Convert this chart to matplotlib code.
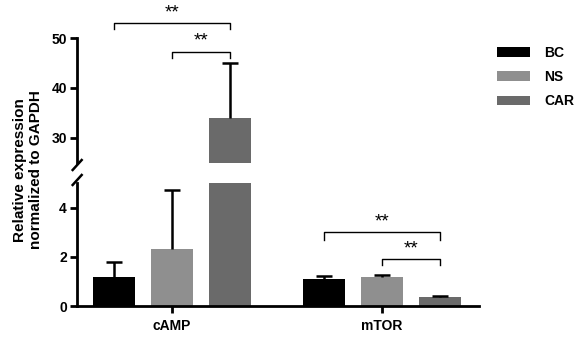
import matplotlib
matplotlib.use("Agg")
import matplotlib.pyplot as plt
import numpy as np

plt.rcParams["font.family"] = ["Liberation Sans", "DejaVu Sans"]
plt.rcParams["font.weight"] = "bold"

# ---- data ----
genes = ["cAMP", "mTOR"]
groups = ["BC", "NS", "CAR"]
colors = ["#000000", "#8f8f8f", "#6a6a6a"]
means = {
    "BC": [1.18, 1.08],
    "NS": [2.30, 1.16],
    "CAR": [33.9, 0.37],
}
errs = {
    "BC": [0.60, 0.15],
    "NS": [2.40, 0.10],
    "CAR": [11.1, 0.05],
}
# significance brackets: (gene index, group a, group b, bracket y, leg y, star y, axis)
brackets = [
    (0, 0, 2, 53.1, 51.9, 55.0, "top"),
    (0, 1, 2, 47.3, 46.0, 49.4, "top"),
    (1, 0, 2, 2.99, 2.70, 3.40, "bot"),
    (1, 1, 2, 1.93, 1.66, 2.30, "bot"),
]

fig = plt.figure(figsize=(5.77, 3.40), dpi=100)
ax_top = fig.add_axes([0.1329, 0.522, 0.6973, 0.3654])
ax_bot = fig.add_axes([0.1329, 0.100, 0.6973, 0.3618])

x = np.arange(len(genes))
offset = 0.274
width = 0.20

for ax in (ax_top, ax_bot):
    for k, g in enumerate(groups):
        xs = x + (k - 1) * offset
        ax.bar(xs, means[g], width, color=colors[k], label=g, zorder=2)
        eb = ax.errorbar(xs, means[g], yerr=[np.zeros(len(genes)), errs[g]],
                         fmt="none", ecolor="black", elinewidth=1.8,
                         capsize=6, capthick=1.8, zorder=3)
        eb[1][0].set_visible(False)  # no cap at the bar top
    ax.set_xlim(-0.454, 1.462)
    for s in ax.spines.values():
        s.set_linewidth(2.0)
    ax.spines["top"].set_visible(False)
    ax.spines["right"].set_visible(False)
    ax.tick_params(axis="y", width=2.0, length=5, labelsize=10, pad=2)

ax_top.set_ylim(25, 50)
ax_top.set_yticks([30, 40, 50])
ax_top.spines["bottom"].set_visible(False)
ax_top.set_xticks([])

ax_bot.set_ylim(0, 5)
ax_bot.set_yticks([0, 2, 4])
ax_bot.set_xticks(x)
ax_bot.set_xticklabels(genes, fontsize=10, fontweight="bold")
ax_bot.tick_params(axis="x", width=2.0, length=5, pad=4)

for ax in (ax_top, ax_bot):
    for lab in ax.get_yticklabels():
        lab.set_fontweight("bold")

# break marks
ax_top.plot([-0.010, 0.0124], [-0.06, 0.02], transform=ax_top.transAxes,
            color="black", lw=1.8, clip_on=False)
ax_bot.plot([-0.010, 0.0124], [0.984, 1.065], transform=ax_bot.transAxes,
            color="black", lw=1.8, clip_on=False)

# significance brackets
for gi, a, b, yb, yl, ys, which in brackets:
    ax = ax_top if which == "top" else ax_bot
    xa = x[gi] + (a - 1) * offset
    xb = x[gi] + (b - 1) * offset
    ax.plot([xa, xa, xb, xb], [yl, yb, yb, yl], color="black", lw=1.0,
            clip_on=False)
    ax.text((xa + xb) / 2, ys, "**", ha="center", va="center",
            fontsize=13.5, fontweight="normal", clip_on=False)

fig.text(0.049, 0.50, "Relative expression\nnormalized to GAPDH",
         rotation=90, ha="center", va="center", fontsize=11,
         fontweight="bold", linespacing=1.2)

handles, labels = ax_bot.get_legend_handles_labels()
fig.legend(handles, labels, loc="upper left", bbox_to_anchor=(0.861, 0.866),
           frameon=False, fontsize=10, handlelength=2.4, handleheight=0.72,
           labelspacing=0.75, handletextpad=1.0, borderpad=0,
           borderaxespad=0)

fig.savefig("out.png", dpi=100)
